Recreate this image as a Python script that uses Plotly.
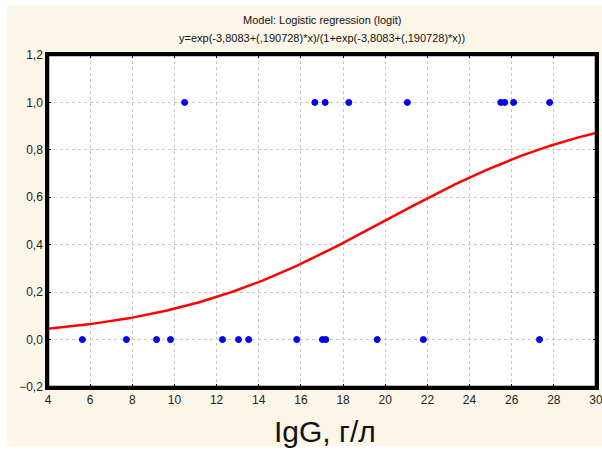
import numpy as np
import plotly.graph_objects as go

# Observed data
x_one = [10.48, 16.66, 17.15, 18.27, 21.05, 25.48, 25.67, 26.09, 27.80]
x_zero = [5.63, 7.72, 9.15, 9.81, 12.28, 13.04, 13.52, 15.80, 17.02, 17.18, 19.62, 21.81, 27.32]
y_one = [1.0] * len(x_one)
y_zero = [0.0] * len(x_zero)

# Fitted logistic model coefficients (from chart title)
b0 = -3.8083
b1 = 0.190728

x_ticks = list(range(4, 31, 2))
y_ticks = [-0.2, 0.0, 0.2, 0.4, 0.6, 0.8, 1.0, 1.2]

xc = np.linspace(4, 30, 300)
yc = np.exp(b0 + b1 * xc) / (1 + np.exp(b0 + b1 * xc))

fig = go.Figure()
fig.add_trace(go.Scatter(x=xc, y=yc, mode="lines",
                         line=dict(color="#ff0000", width=2.5), showlegend=False, hoverinfo="skip"))
fig.add_trace(go.Scatter(x=x_zero + x_one, y=y_zero + y_one, mode="markers",
                         marker=dict(color="#0000ff", size=6, line=dict(color="#0000dd", width=1)),
                         showlegend=False, cliponaxis=False))

L, R, T, B = 48, 6, 55, 65
W, H = 602, 452
pw, ph = W - L - R, H - T - B
def px(xp): return (xp - L) / pw
def py(yp): return (H - B - yp) / ph

cream = "#fcf6e9"
white_strip = dict(type="rect", xref="paper", yref="paper", fillcolor="white",
                   line=dict(width=0), layer="below")
fig.update_layout(
    width=W, height=H,
    margin=dict(l=L, r=R, t=T, b=B, autoexpand=False),
    paper_bgcolor=cream, plot_bgcolor="white",
    separators=",.",
    font=dict(family="Liberation Sans, Arial, sans-serif", color="#222222", size=12),
    shapes=[
        dict(white_strip, x0=px(0), x1=px(7), y0=py(452), y1=py(0)),
        dict(white_strip, x0=px(0), x1=px(602), y0=py(5), y1=py(0)),
        dict(white_strip, x0=px(0), x1=px(602), y0=py(452), y1=py(446)),
        dict(type="rect", xref="paper", yref="paper", x0=0, x1=1, y0=0, y1=1,
             line=dict(color="#000000", width=2.5), layer="above"),
    ],
    annotations=[
        dict(text="Model: Logistic regression (logit)", xref="paper", yref="paper",
             x=0.5, y=py(20), showarrow=False, yanchor="middle", font=dict(size=11, color="#111111")),
        dict(text="y=exp(-3,8083+(,190728)*x)/(1+exp(-3,8083+(,190728)*x))", xref="paper", yref="paper",
             x=0.5, y=py(38), showarrow=False, yanchor="middle", font=dict(size=11, color="#111111")),
        dict(text="IgG, г/л", xref="paper", yref="paper",
             x=px(325), y=py(432), showarrow=False, yanchor="middle", font=dict(size=30, color="#111111")),
    ],
)
fig.update_xaxes(range=[4, 30], tickvals=x_ticks, ticktext=[str(v) for v in x_ticks],
                 automargin=False, ticklabeloverflow="allow",
                 showline=True, linecolor="#000000", linewidth=2.5, mirror="allticks",
                 ticks="inside", ticklen=3, tickcolor="#000000", tickwidth=1,
                 showgrid=True, gridcolor="#c8c8c8", griddash="dot", gridwidth=1,
                 zeroline=False, tickfont=dict(size=12))
fig.update_yaxes(range=[-0.2, 1.2], tickvals=y_ticks, tickformat=".1f",
                 automargin=False, ticklabeloverflow="allow",
                 showline=True, linecolor="#000000", linewidth=2.5, mirror="allticks",
                 ticks="inside", ticklen=3, tickcolor="#000000", tickwidth=1,
                 showgrid=True, gridcolor="#c8c8c8", griddash="dot", gridwidth=1,
                 zeroline=False, tickfont=dict(size=12))

fig.write_html("out.html")
